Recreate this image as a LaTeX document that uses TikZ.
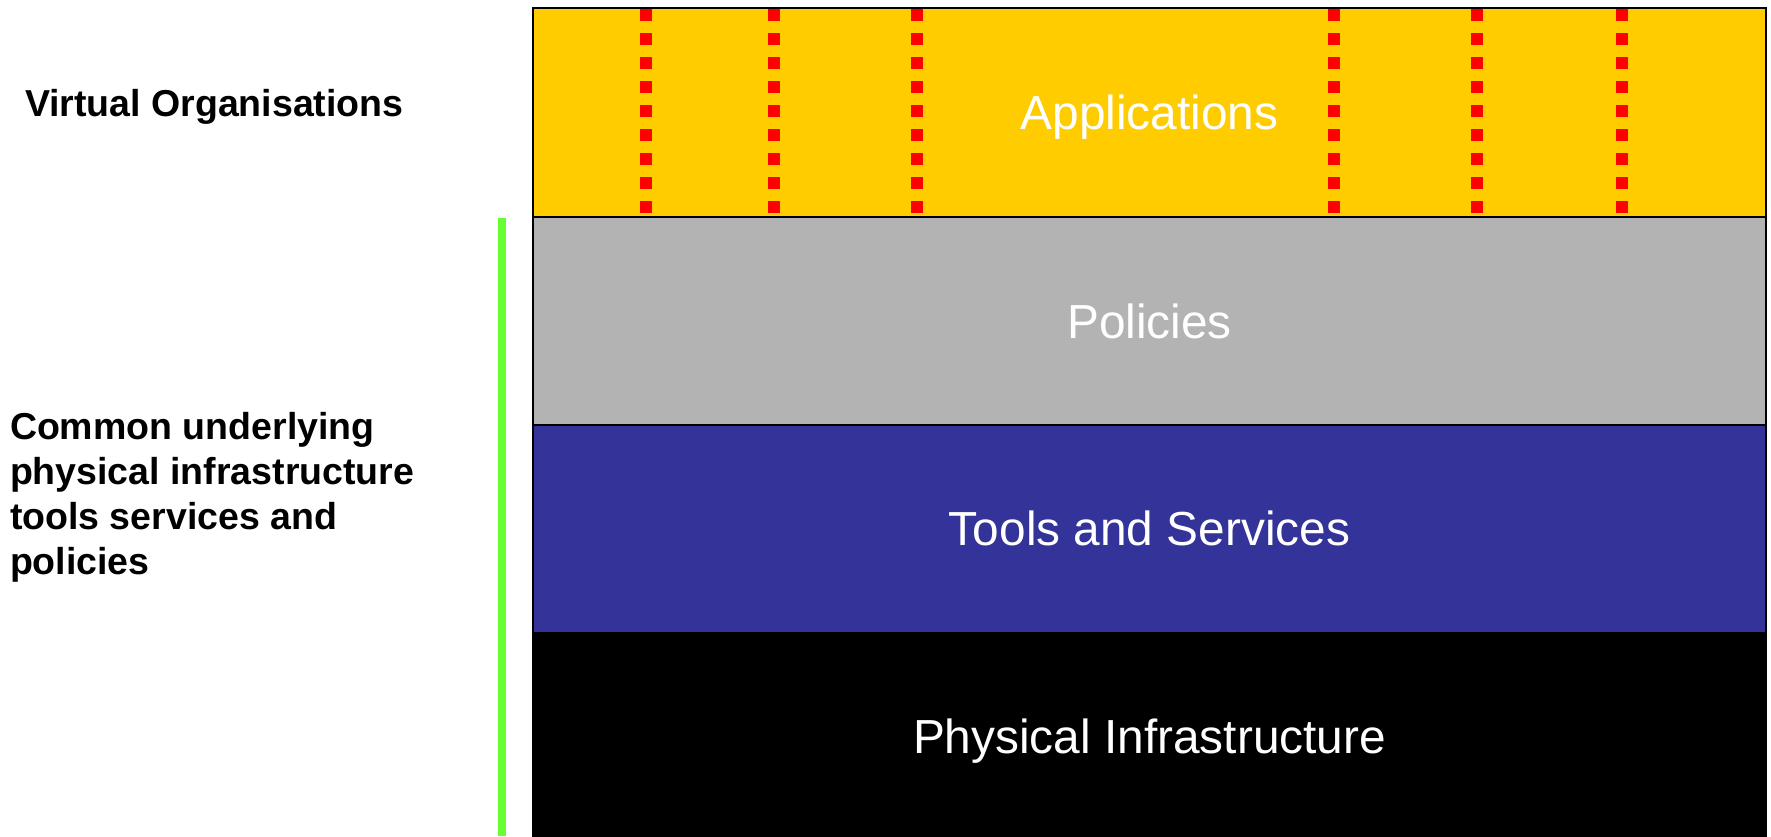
\documentclass[tikz,border=0pt]{standalone}
\usepackage{fontspec}
\setmainfont{Liberation Sans}
\definecolor{appyellow}{HTML}{FFCC00}
\definecolor{polgray}{HTML}{B3B3B3}
\definecolor{toolblue}{HTML}{333399}
\definecolor{vored}{HTML}{FF0000}
\definecolor{linegreen}{HTML}{66FF33}
\begin{document}
\begin{tikzpicture}[x=1pt,y=-1pt,
  layer/.style={draw=black, line width=2pt, rectangle, inner sep=0pt, outer sep=0pt,
    minimum width=1233pt, minimum height=208.5pt, anchor=north west,
    text=white, font=\fontsize{47.8}{56}\selectfont, text height=34.8pt, text depth=0pt},
  vodots/.style={draw=vored, line width=12pt, dash pattern=on 12pt off 12pt, line cap=butt},
  sidelabel/.style={inner sep=0pt, outer sep=0pt, align=left, anchor=base west,
    font=\fontsize{37.5}{45.2}\selectfont\bfseries}
]
\useasboundingbox (0,0) rectangle (1771,836);
\fill[white] (0,0) rectangle (1771,836);
% layers
\node[layer, fill=black] (phys) at (533,632) {Physical Infrastructure};
\node[layer, fill=toolblue] (tools) at (533,424) {Tools and Services};
\node[layer, fill=polgray] (pol) at (533,216.5) {Policies};
\node[layer, fill=appyellow] (app) at (533,8) {Applications};
% VO dotted lines
\foreach \xx in {646,774,917,1334,1477,1622}{
  \coordinate (t\xx) at (\xx,9);
  \coordinate (b\xx) at (\xx,213);
  \draw[vodots] (t\xx) -- (b\xx);
}
% green bar
\coordinate (gtop) at (502,218);
\coordinate (gbot) at (502,836);
\draw[linegreen, line width=8pt] (gtop) -- (gbot);
% side labels
\node[sidelabel] (vo) at (25,116.7) {Virtual Organisations};
\node[sidelabel, anchor=north west] (common) at (10,412) {Common underlying\\physical infrastructure\\tools services and\\policies};
\end{tikzpicture}
\end{document}
